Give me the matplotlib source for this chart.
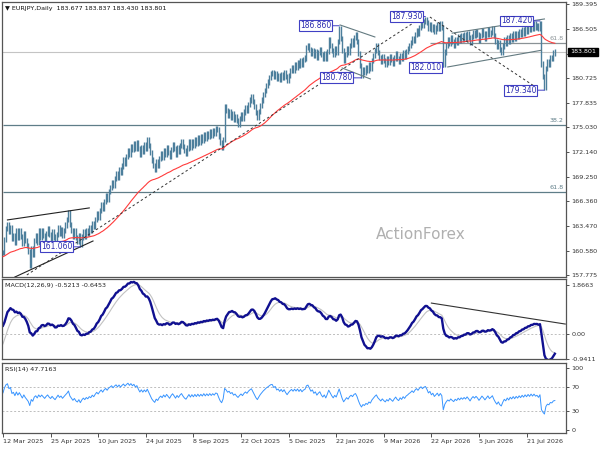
import numpy as np
import matplotlib
matplotlib.use('Agg')
import matplotlib.pyplot as plt

# daily closes, one per bar (12 Mar 2025 onwards)
closes_a = [160.4, 161.9, 163.2, 163.7, 162.8, 163.3, 162.0, 162.4, 161.6, 162.9,
            162.1, 163.0, 162.3, 161.5, 162.6, 161.8, 161.2, 160.5]
closes_b = [158.9, 160.9, 160.2, 161.8, 162.4, 161.6, 162.9, 162.2, 163.0, 162.4,
            161.8, 162.6, 163.2, 162.5, 162.0, 162.8, 162.2, 161.7, 162.5, 163.3,
            162.6, 163.1, 162.4, 163.0, 163.6, 164.2, 165.1, 163.7, 163.0, 162.3,
            162.9, 162.1, 161.7, 162.4, 161.36, 162.2, 162.8, 162.3, 163.0]
closes_c = [162.6, 163.3, 163.0, 163.8, 163.4, 164.2, 164.9, 164.5, 165.3, 166.0,
            165.5, 166.4, 167.0, 166.6, 167.5, 168.0, 168.6, 168.2, 169.0, 169.6,
            169.2, 170.1, 169.7, 170.5, 171.2, 170.8, 171.6, 172.3, 171.9, 172.8,
            172.4, 173.1, 172.6, 173.2]
closes_d = [172.5, 171.9, 172.7, 172.2, 173.0, 172.6, 173.6, 172.9, 172.1, 171.2,
            170.6, 170.1, 171.0, 170.6, 171.4, 171.9, 171.5, 172.3, 171.8, 172.6,
            172.1, 171.6, 172.4, 173.0, 172.5, 171.9, 172.7, 172.2, 172.9, 173.4,
            172.8, 172.3, 172.0, 172.6, 173.3, 172.7, 173.4, 172.9, 173.6, 173.1,
            173.8, 173.3, 173.9, 173.5, 174.2, 173.7, 174.3, 173.9, 174.5, 174.1,
            174.6, 174.3, 174.9, 174.8]
closes_e = [174.0, 173.2, 172.7, 173.6, 177.4, 177.0, 176.4, 176.8, 176.2, 176.6,
            175.9, 176.3, 175.8, 175.4, 176.0, 176.5, 176.1, 176.8, 177.3, 177.0,
            177.7, 178.2, 178.6, 178.0, 177.4, 176.7, 176.2, 176.9, 177.6, 178.2,
            178.8, 179.3, 179.9, 180.3, 180.8, 181.3, 181.4]
closes_f = [180.9, 181.3, 180.7, 181.0, 180.6, 181.2, 180.8, 181.4, 180.9, 180.5,
            181.1, 181.6, 182.0, 181.7, 182.3, 182.0, 182.6, 182.2, 182.8, 182.4,
            182.9, 183.1, 184.3, 184.6, 184.1, 183.6, 184.0, 183.4, 183.8, 183.2,
            183.7, 184.1, 183.5, 183.1, 183.6, 183.0, 183.9, 185.2, 184.6, 184.0,
            183.5, 184.2, 183.8, 185.0, 186.56, 185.4, 184.0, 182.8, 183.5, 184.2,
            183.7, 184.6, 185.1, 184.7, 185.5, 185.8, 185.0, 183.6, 182.2, 181.08,
            181.8, 181.4, 182.0, 181.6, 182.3, 181.9, 182.8, 183.4, 184.0, 184.5,
            183.7]
closes_g = [183.2, 182.7, 183.3, 182.8, 182.4, 183.0, 182.6, 183.3, 182.9, 182.5,
            183.1, 183.6, 183.0, 182.7, 183.4, 183.0, 183.7, 183.3, 183.9, 184.2,
            184.6, 184.9, 185.4, 185.1, 185.8, 186.3, 186.0, 186.7, 187.2, 186.9,
            187.4, 187.63, 187.2, 186.6, 187.0, 186.4, 186.8, 186.2, 186.6, 187.0,
            186.5, 187.1, 186.7, 182.31, 183.8]
closes_h = [184.6, 185.2, 184.8, 185.5, 185.0, 184.6, 185.3, 184.9, 185.6, 185.1,
            185.7, 185.3, 185.8, 185.4, 186.0, 185.5, 184.9, 185.6, 186.1, 185.7,
            186.2, 185.8, 185.2, 185.7, 186.3, 185.9, 185.4, 185.9, 186.4, 185.8,
            186.1, 186.5, 185.7, 185.0, 184.4, 184.9, 184.1, 183.7, 184.5, 185.2,
            184.8, 185.5, 185.0, 185.7, 185.3, 185.9, 185.4, 186.0, 185.6, 186.2,
            185.8, 186.4, 186.0, 186.6, 186.2, 186.8, 186.4, 187.0, 186.6, 187.1,
            186.7, 186.9, 186.5, 187.12, 182.4, 180.9, 179.64, 181.9, 182.7, 182.4,
            183.2, 183.0, 183.677, 183.801]

date_labels = ['12 Mar 2025', '25 Apr 2025', '10 Jun 2025', '24 Jul 2025', '8 Sep 2025',
               '22 Oct 2025', '5 Dec 2025', '22 Jan 2026', '9 Mar 2026', '22 Apr 2026',
               '5 Jun 2026', '21 Jul 2026']
bars_per_label = 32

# 183.615 sits under the last-price box, so it carries no label
price_ticks = [189.395, 186.505, 183.615, 180.725, 177.835, 175.030,
               172.140, 169.250, 166.360, 163.470, 160.580, 157.775]
last_ohlc = [183.677, 183.837, 183.430, 183.801]

# fibonacci levels: (label, price, first bar)
fib_levels = [('38.2', 175.28, 0), ('61.8', 167.46, 0), ('61.8', 184.85, 287)]

# swing highs / lows that carry a price box: (bar, price)
swing_labels = [(52, 161.060), (226, 186.860), (241, 180.780), (284, 187.930),
                (296, 182.010), (361, 187.420), (364, 179.340)]
swing_gap = [7, 7, 8, 2, 1, 7, 7]

# hand-drawn trendlines: (bar0, price0, bar1, price1, kind)
trend_lines = [
    (3, 164.2, 58, 165.6, 'solid'),
    (8, 157.54, 60.5, 161.74, 'solid'),
    (16, 157.775, 282, 187.88, 'dot'),
    (287, 187.88, 359, 179.6, 'dot'),
    (226.6, 186.95, 250, 185.55, 'chan'),
    (228, 181.93, 247, 180.65, 'chan'),
    (302, 186.0, 364, 187.65, 'chan'),
    (299, 182.05, 362, 184.0, 'chan'),
]
macd_trend = (288, 1.18, 378, 0.38)

# indicator states at the first bar
ema55_start = 159.9
macd_fast_start, macd_slow_start, macd_signal_start = 159.9, 159.6, -0.55
rsi_gain_start, rsi_loss_start = 0.30, 0.20

closes = np.array(closes_a + closes_b + closes_c + closes_d +
                  closes_e + closes_f + closes_g + closes_h)
n = len(closes)
idx = np.arange(n)
opens = np.r_[closes[0], closes[:-1]]
wick = 0.3
highs = np.maximum(opens, closes) + wick
lows = np.minimum(opens, closes) - wick


def ema(values, period, start):
    k = 2.0 / (period + 1)
    out = []
    cur = start
    for v in values:
        cur = cur + k * (v - cur)
        out.append(cur)
    return np.array(out)


ma55 = ema(closes, 55, ema55_start)
macd = ema(closes, 12, macd_fast_start) - ema(closes, 26, macd_slow_start)
signal = ema(macd, 9, macd_signal_start)

gains, losses = rsi_gain_start, rsi_loss_start
rsi = []
for d in np.diff(np.r_[closes[0], closes]):
    gains = (gains * 13 + max(d, 0)) / 14
    losses = (losses * 13 + max(-d, 0)) / 14
    rsi.append(100 - 100 / (1 + gains / losses))
rsi = np.array(rsi)

# ---- figure ----
W, H = 600, 450
fig = plt.figure(figsize=(6, 4.5), dpi=100)


def px_box(l, t, r, b):
    return [l / W, 1 - b / H, (r - l) / W, (b - t) / H]


ax = fig.add_axes(px_box(2, 2, 566, 277))
ax_m = fig.add_axes(px_box(2, 279, 566, 359))
ax_r = fig.add_axes(px_box(2, 363, 566, 433))

fs = 4.6
xlim = (-0.67, 378.5)
for a in (ax, ax_m, ax_r):
    a.set_xlim(*xlim)
    for s in a.spines.values():
        s.set_color('#555555')
        s.set_linewidth(0.9)
    a.yaxis.tick_right()
    a.tick_params(axis='y', direction='out', length=2.5, width=0.6, pad=1.5,
                  labelsize=fs, colors='#333333')
    a.tick_params(axis='x', bottom=False, labelbottom=False)

# main price panel
ax.set_ylim(157.54, 189.63)
ax.set_yticks(price_ticks)
ax.set_yticklabels(['' if abs(p - 183.615) < 1e-6 else f'{p:.3f}' for p in price_ticks])

ax.axhline(last_ohlc[3], color='#c4c4c4', lw=0.8, zorder=1)
for lab, lvl, start in fib_levels:
    col = '#5f7d88' if start == 0 else '#8a9296'
    ax.hlines(lvl, start, xlim[1], color=col, lw=0.9, zorder=1)
    ax.text(377, lvl + 0.25, lab, ha='right', va='bottom', fontsize=fs, color=col)

ax.text(0.743, 0.153, 'ActionForex', transform=ax.transAxes, ha='center', va='center',
        fontsize=11, color='#b0b0b0', zorder=0)

ax.vlines(idx, lows, highs, color='#4d7f9c', lw=1.0, zorder=3)
ax.plot(idx, ma55, color='#ff3b3b', lw=0.8, zorder=4)

for b0, p0, b1, p1, kind in trend_lines:
    if kind == 'dot':
        ax.plot([b0, b1], [p0, p1], color='#333333', lw=0.7, ls=(0, (2.5, 2.5)), zorder=5)
    elif kind == 'solid':
        ax.plot([b0, b1], [p0, p1], color='#222222', lw=0.8, zorder=5)
    else:
        ax.plot([b0, b1], [p0, p1], color='#637a80', lw=0.8, zorder=5)

for (bar, price), gap in zip(swing_labels, swing_gap):
    ax.annotate(f'{price:.3f}', xy=(bar, price), xytext=(-gap - 1, 0),
                textcoords='offset pixels', ha='right', va='center',
                fontsize=5.5, color='#2b2bb0', zorder=7,
                bbox=dict(boxstyle='square,pad=0.12', fc='white', ec='#4040c4', lw=0.8),
                arrowprops=dict(arrowstyle='-', color='#4040c4', lw=0.7,
                                shrinkA=0, shrinkB=0))

ax.annotate(f'{last_ohlc[3]:.3f}', xy=(1, last_ohlc[3]), xycoords=ax.get_yaxis_transform(),
            xytext=(4, 0), textcoords='offset pixels', ha='left', va='center',
            fontsize=fs, color='white', annotation_clip=False, zorder=10,
            bbox=dict(boxstyle='square,pad=0.3', fc='black', ec='black'))

fig.text(5 / W, 1 - 8.5 / H,
         '\u25bc EURJPY,Daily  ' + ' '.join(f'{v:.3f}' for v in last_ohlc),
         ha='left', va='center', fontsize=fs, color='#111111')

# MACD panel
ax_m.set_ylim(-0.954, 2.099)
ax_m.set_yticks([1.8663, 0.0, -0.9411])
ax_m.set_yticklabels(['1.8663', '0.00', '-0.9411'])
ax_m.axhline(0, color='#bdbdbd', lw=0.7, ls=(0, (2, 2)))
ax_m.plot(idx, signal, color='#c2c2c2', lw=0.8)
ax_m.plot(idx, macd, color='#101090', lw=1.7)
b0, v0, b1, v1 = macd_trend
ax_m.plot([b0, b1], [v0, v1], color='#333333', lw=0.8)
ax_m.text(0.006, 0.95, 'MACD(12,26,9) -0.5213 -0.6453', transform=ax_m.transAxes,
          ha='left', va='top', fontsize=fs, color='#222222')

# RSI panel
ax_r.set_ylim(-4.8, 108.1)
ax_r.set_yticks([100, 70, 30, 0])
for lvl in (70, 30):
    ax_r.axhline(lvl, color='#bdbdbd', lw=0.7, ls=(0, (2, 2)))
ax_r.plot(idx, rsi, color='#3794ff', lw=0.7)
ax_r.text(0.006, 0.95, 'RSI(14) 47.7163', transform=ax_r.transAxes,
          ha='left', va='top', fontsize=fs, color='#222222')

ax_r.set_xticks([k * bars_per_label for k in range(len(date_labels))])
ax_r.set_xticklabels(date_labels)
ax_r.tick_params(axis='x', bottom=True, labelbottom=True, direction='out', length=3,
                 width=0.6, pad=1.5, labelsize=fs, colors='#333333')
for lbl in ax_r.get_xticklabels():
    lbl.set_ha('left')

fig.savefig('out.png', dpi=100, facecolor='white')
